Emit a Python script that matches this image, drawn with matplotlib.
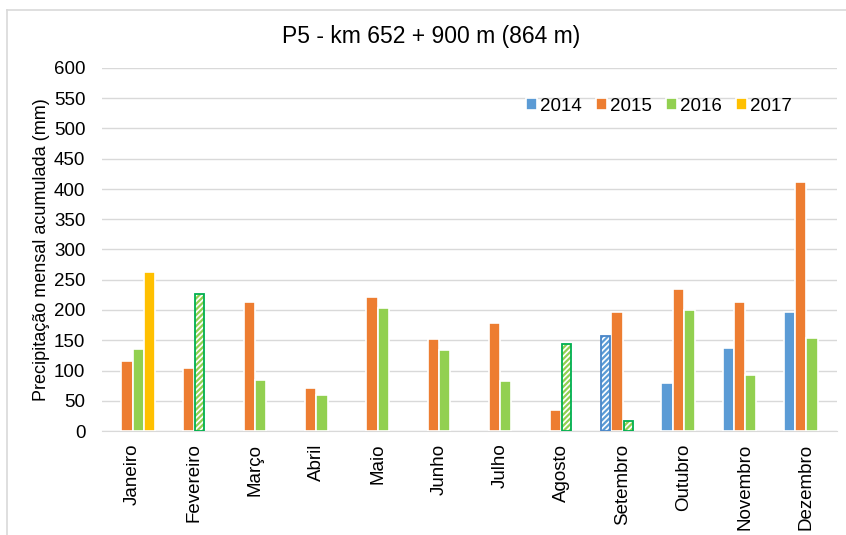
import matplotlib.pyplot as plt
from matplotlib.lines import Line2D
import numpy as np

plt.rcParams['font.family'] = ['Liberation Sans', 'DejaVu Sans']
plt.rcParams['hatch.linewidth'] = 1.6

meses = ['Janeiro', 'Fevereiro', 'Março', 'Abril', 'Maio', 'Junho', 'Julho',
         'Agosto', 'Setembro', 'Outubro', 'Novembro', 'Dezembro']
anos = ['2014', '2015', '2016', '2017']
nan = np.nan
p2014 = [nan, nan, nan, nan, nan, nan, nan, nan, 157, 79, 137, 197]
p2015 = [116, 104, 213, 71, 222, 152, 178, 35, 197, 235, 213, 412]
p2016 = [135, 226, 84, 60, 203, 134, 82, 144, 17, 200, 92, 153]
p2017 = [263, nan, nan, nan, nan, nan, nan, nan, nan, nan, nan, nan]
# meses com dados incompletos (barras hachuradas)
incompletos = {'2014': [8], '2016': [1, 7, 8]}

series = [p2014, p2015, p2016, p2017]
cores = ['#5B9BD5', '#ED7D31', '#92D050', '#FFC000']
bordas = {'2014': '#4A86C8', '2016': '#00B050'}

fig = plt.figure(figsize=(8.46, 5.35), dpi=100)
ax = fig.add_axes([102/846, 1-431/535, 735/846, 363/535])

x = np.arange(len(meses))
w = 0.183
for i, (ano, vals, cor) in enumerate(zip(anos, series, cores)):
    vals = np.array(vals, dtype=float)
    pos = x + (i - 1.5) * w
    hat = incompletos.get(ano, [])
    cheio = [j for j in range(12) if j not in hat and not np.isnan(vals[j])]
    ax.bar(pos[cheio], vals[cheio], w, color=cor, edgecolor='white', linewidth=1.2,
           label=ano, zorder=3)
    if hat:
        ax.bar(pos[hat], vals[hat], w * 0.8, facecolor='white', edgecolor=cor,
               hatch='//////', linewidth=0, zorder=3)
        ax.bar(pos[hat], vals[hat], w * 0.8, fill=False, edgecolor=bordas[ano],
               linewidth=1.3, zorder=4)

ax.set_xlim(-0.5, 11.5)
ax.set_ylim(0, 600)
ax.set_yticks(range(0, 601, 50))
ax.set_xticks(x)
ax.set_xticklabels(meses, rotation=90, fontsize=13.5)
ax.tick_params(axis='y', labelsize=13.5, length=0, pad=12)
ax.tick_params(axis='x', length=0, pad=9)
ax.grid(axis='y', color='#D9D9D9', linewidth=1, zorder=0)
for s in ['top', 'right', 'left']:
    ax.spines[s].set_visible(False)
ax.spines['bottom'].set_color('#D9D9D9')
ax.set_ylabel('Precipitação mensal acumulada (mm)', fontsize=13, labelpad=3)

fig.text(431/846, 1-36/535, 'P5 - km 652 + 900 m (864 m)', ha='center', va='center', fontsize=16.5)

h, l = ax.get_legend_handles_labels()
ax.legend(h, l, loc='center right', bbox_to_anchor=(0.962, 0.895), ncol=4, frameon=False,
          fontsize=13.5, handlelength=0.55, handleheight=0.55, handletextpad=0.2,
          columnspacing=0.75)

fig.add_artist(Line2D([7/846, 7/846], [0, 1-9.5/535], color='#D9D9D9', linewidth=1.2))
fig.add_artist(Line2D([7/846, 1], [1-9.5/535, 1-9.5/535], color='#D9D9D9', linewidth=1.2))

fig.savefig('out.png', dpi=100)
